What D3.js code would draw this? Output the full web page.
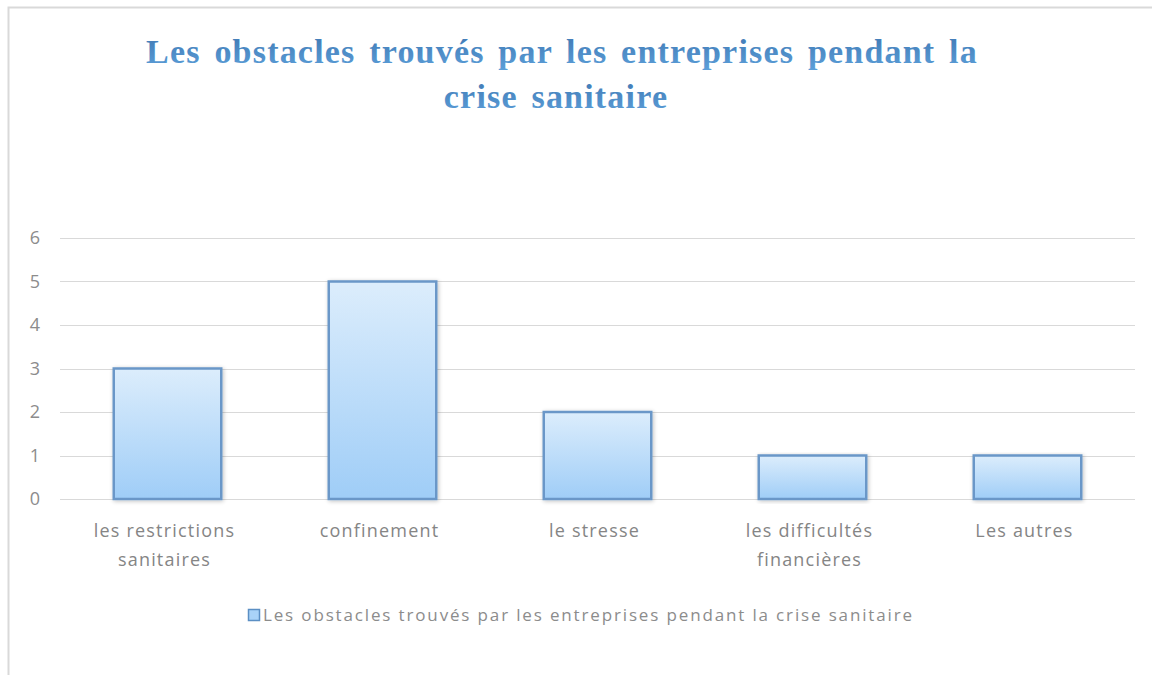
<!DOCTYPE html>
<html>
<head>
<meta charset="utf-8">
<script src="https://cdn.jsdelivr.net/npm/d3@7"></script>
<style>
  body { margin: 0; background: #fff; }
  svg { display: block; }
</style>
</head>
<body>
<svg width="1152" height="675"></svg>
<script>
var categories = [["les restrictions", "sanitaires"], ["confinement"], ["le stresse"], ["les difficultés", "financières"], ["Les autres"]];
var values = [3, 5, 2, 1, 1];
var yTicks = [0, 1, 2, 3, 4, 5, 6];
var titleLines = ["Les obstacles trouvés par les entreprises pendant la", "crise sanitaire"];
var seriesName = "Les obstacles trouvés par les entreprises pendant la crise sanitaire";

var svg = d3.select("svg"),
    width = +svg.attr("width"),
    height = +svg.attr("height"),
    margin = {top: 238, right: 17, bottom: 176, left: 60},
    chartWidth = width - (margin.left + margin.right),
    chartHeight = height - (margin.top + margin.bottom);

// frame of the chart area
svg.append("path")
    .attr("d", "M8.5," + height + "V7.5H" + width)
    .attr("fill", "none")
    .attr("stroke", "#d9d9d9")
    .attr("stroke-width", 2);

var defs = svg.append("defs");
var grad = defs.append("linearGradient")
    .attr("id", "barGrad")
    .attr("x1", 0).attr("y1", 0).attr("x2", 0).attr("y2", 1);
grad.append("stop").attr("offset", "0%").attr("stop-color", "#dcedfc");
grad.append("stop").attr("offset", "100%").attr("stop-color", "#9fcdf7");

var titleGrad = defs.append("linearGradient")
    .attr("id", "titleGrad")
    .attr("x1", 0).attr("y1", 0).attr("x2", 0).attr("y2", 1);
titleGrad.append("stop").attr("offset", "0%").attr("stop-color", "#3f78b3");
titleGrad.append("stop").attr("offset", "100%").attr("stop-color", "#5c9fd9");

var shadow = defs.append("filter").attr("id", "shadow")
    .attr("x", "-10%").attr("y", "-10%").attr("width", "120%").attr("height", "120%");
shadow.append("feGaussianBlur").attr("in", "SourceAlpha").attr("stdDeviation", 2).attr("result", "b");
shadow.append("feOffset").attr("in", "b").attr("dx", 1).attr("dy", 1).attr("result", "o");
shadow.append("feComponentTransfer").attr("in", "o").attr("result", "s")
  .append("feFuncA").attr("type", "linear").attr("slope", 0.25);
var merge = shadow.append("feMerge");
merge.append("feMergeNode").attr("in", "s");
merge.append("feMergeNode").attr("in", "SourceGraphic");

// title
svg.append("g").selectAll("text")
    .data(titleLines)
    .enter()
    .append("text")
    .attr("x", function(d, i) { return i === 0 ? 562 : 556; })
    .attr("y", function(d, i) { return 63 + i * 45; })
    .attr("text-anchor", "middle")
    .attr("font-family", "'Liberation Serif', 'DejaVu Serif', serif")
    .attr("font-weight", "bold")
    .attr("font-size", 34)
    .attr("letter-spacing", 1.2)
    .attr("word-spacing", 4)
    .attr("fill", "url(#titleGrad)")
    .text(function(d) { return d; });

var g = svg.append("g")
    .attr("transform", "translate(" + margin.left + "," + margin.top + ")");

var x = d3.scaleBand()
    .domain(d3.range(values.length))
    .range([0, chartWidth])
    .paddingInner(0.5)
    .paddingOuter(0.25);

var y = d3.scaleLinear()
    .domain([0, 6])
    .range([chartHeight, 0]);

// gridlines
g.append("g")
    .selectAll("line")
    .data(yTicks)
    .enter()
    .append("line")
    .attr("x1", 0)
    .attr("x2", chartWidth)
    .attr("y1", function(d) { return Math.round(y(d)) + 0.5; })
    .attr("y2", function(d) { return Math.round(y(d)) + 0.5; })
    .attr("stroke", "#d9d9d9")
    .attr("stroke-width", 1);

// y axis labels
var yAxis = g.append("g")
    .call(d3.axisLeft(y).tickValues(yTicks).tickFormat(d3.format("d")).tickSize(0).tickPadding(25));
yAxis.select(".domain").remove();
yAxis.selectAll("text")
    .attr("font-family", "'Open Sans', 'Noto Sans', sans-serif")
    .attr("font-size", 18)
    .attr("fill", "#8c8c8c")
    .attr("text-anchor", "middle");

// bars
g.append("g")
    .selectAll("rect")
    .data(values)
    .enter()
    .append("rect")
    .attr("x", function(d, i) { return x(i); })
    .attr("y", function(d) { return y(d); })
    .attr("width", x.bandwidth())
    .attr("height", function(d) { return y(0) - y(d); })
    .attr("fill", "url(#barGrad)")
    .attr("stroke", "#6a97c8")
    .attr("stroke-width", 2.5)
    .attr("filter", "url(#shadow)");

// category labels
var catG = g.append("g").selectAll("text")
    .data(categories)
    .enter()
    .append("text")
    .attr("x", function(d, i) { return x(i) + x.bandwidth() / 2 - 3; })
    .attr("y", chartHeight + 38)
    .attr("text-anchor", "middle")
    .attr("font-family", "'Open Sans', 'Noto Sans', sans-serif")
    .attr("font-size", 18)
    .attr("letter-spacing", 1.2)
    .attr("fill", "#858585");
catG.selectAll("tspan")
    .data(function(d) { return d; })
    .enter()
    .append("tspan")
    .attr("x", function() { return d3.select(this.parentNode).attr("x"); })
    .attr("dy", function(d, i) { return i === 0 ? 0 : 29; })
    .text(function(d) { return d; });

// legend
var legend = svg.append("g").attr("transform", "translate(248,609)");
legend.append("rect")
    .attr("x", 0.5).attr("y", 0.5)
    .attr("width", 11).attr("height", 11)
    .attr("fill", "#a9d3f8")
    .attr("stroke", "#5b8fc4")
    .attr("stroke-width", 1.5);
legend.append("text")
    .attr("x", 15)
    .attr("y", 12)
    .attr("font-family", "'Open Sans', 'Noto Sans', sans-serif")
    .attr("font-size", 17)
    .attr("letter-spacing", 1.85)
    .attr("fill", "#8c8c8c")
    .text(seriesName);
</script>
</body>
</html>
